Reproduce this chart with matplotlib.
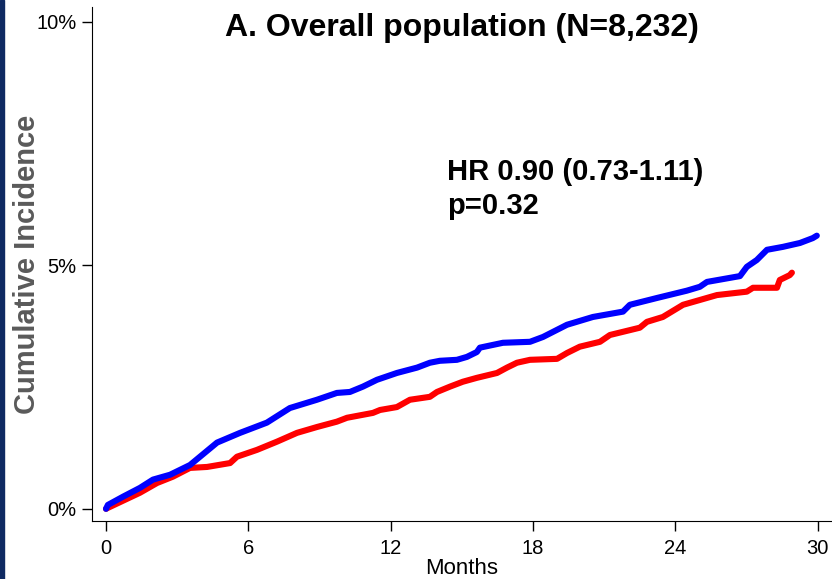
import numpy as np
import matplotlib
matplotlib.use("Agg")
import matplotlib.pyplot as plt
from matplotlib.patches import Rectangle
from matplotlib.ticker import FuncFormatter

plt.rcParams['font.family'] = ['Liberation Sans', 'DejaVu Sans']

# cumulative incidence (months, percent)
blue_t = [0.0, 0.08, 0.72, 1.43, 1.98, 2.70, 3.54, 4.68, 5.65, 6.78, 7.75, 8.89,
          9.73, 10.28, 10.83, 11.42, 12.26, 13.11, 13.65, 14.07, 14.79, 15.21,
          15.63, 15.76, 16.73, 17.87, 18.42, 19.43, 20.52, 21.79, 22.08, 23.22,
          24.48, 25.03, 25.33, 26.72, 27.01, 27.43, 27.86, 28.53, 29.25, 29.79, 29.96]
blue_y = [0.0, 0.08, 0.25, 0.43, 0.60, 0.70, 0.90, 1.36, 1.56, 1.77, 2.07, 2.24,
          2.38, 2.40, 2.51, 2.65, 2.79, 2.90, 3.00, 3.04, 3.06, 3.12,
          3.22, 3.31, 3.41, 3.43, 3.53, 3.78, 3.94, 4.05, 4.19, 4.33,
          4.48, 4.56, 4.66, 4.78, 4.97, 5.11, 5.32, 5.38, 5.46, 5.56, 5.61]

red_t = [0.0, 0.08, 1.43, 2.15, 2.82, 3.54, 4.26, 5.23, 5.52, 6.36, 7.21, 8.05,
         8.89, 9.73, 10.16, 11.25, 11.55, 12.26, 12.81, 13.65, 13.95, 14.50,
         15.04, 15.63, 16.48, 16.90, 17.32, 17.87, 19.01, 19.43, 19.97, 20.82,
         21.24, 22.50, 22.80, 23.47, 24.32, 25.75, 27.01, 27.27, 28.28, 28.40,
         28.82, 28.91]
red_y = [0.0, 0.02, 0.33, 0.53, 0.66, 0.84, 0.86, 0.94, 1.07, 1.21, 1.38, 1.56,
         1.68, 1.79, 1.87, 1.97, 2.03, 2.09, 2.24, 2.30, 2.40, 2.51,
         2.61, 2.69, 2.79, 2.90, 3.00, 3.06, 3.08, 3.20, 3.33, 3.43,
         3.57, 3.72, 3.84, 3.94, 4.19, 4.39, 4.46, 4.54, 4.54, 4.70,
         4.80, 4.85]

x_ticks = [0, 6, 12, 18, 24, 30]
y_ticks = [0, 5, 10]

fig = plt.figure(figsize=(8.32, 5.79), dpi=100)
ax = fig.add_axes([0.1106, 0.1002, 0.8894, 0.888])

ax.plot(red_t, red_y, color='#ff0000', lw=4.4, solid_capstyle='round',
        solid_joinstyle='round')
ax.plot(blue_t, blue_y, color='#0000ff', lw=4.4, solid_capstyle='round',
        solid_joinstyle='round')

ax.set_xlim(-0.59, 30.6)
ax.set_ylim(-0.25, 10.31)
ax.set_xticks(x_ticks)
ax.set_yticks(y_ticks)
ax.yaxis.set_major_formatter(FuncFormatter(lambda v, p: '%d%%' % v))
ax.tick_params(axis='both', length=7, width=1, labelsize=14.5)
ax.tick_params(axis='x', pad=6)
ax.tick_params(axis='y', pad=4)
for s in ['top', 'right']:
    ax.spines[s].set_visible(False)

ax.set_xlabel('Months', fontsize=16, labelpad=0)
ax.set_ylabel('Cumulative Incidence', fontsize=21, fontweight='bold',
              color='#5a5a5a', labelpad=-3)

ax.text(0.5, 0.988, 'A. Overall population (N=8,232)', transform=ax.transAxes,
        ha='center', va='top', fontsize=23, fontweight='bold')
ax.text(14.37, 6.57, 'HR 0.90 (0.73-1.11)\np=0.32',
        ha='left', va='center', fontsize=21, fontweight='bold',
        linespacing=1.25)

fig.patches.append(Rectangle((0, 0), 0.0045, 1, transform=fig.transFigure,
                             color='#0f2a62', zorder=0))

fig.savefig('out.png', dpi=100)
